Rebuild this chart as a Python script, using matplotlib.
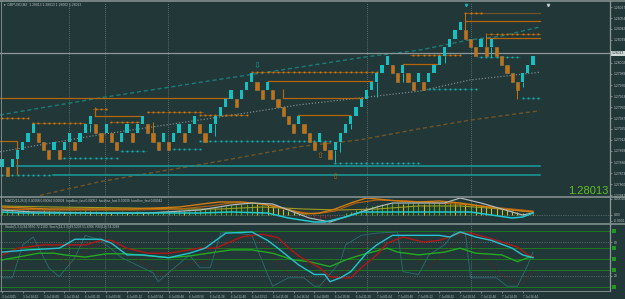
# grafica renko GBPUSD con MACD y estocastico (estilo MT4)
import numpy as np
import matplotlib
matplotlib.use('Agg')
import matplotlib.pyplot as plt
import matplotlib.transforms as mtransforms
from matplotlib.lines import Line2D

plt.rcParams['font.family'] = ['Liberation Sans', 'DejaVu Sans']

# --- colores ---
BG = '#223738'
TEAL = '#17c0c0'
ORANGE = '#c8700c'
FRAME = '#8d9797'
LABEL = '#b8c0c0'

# --- 1. Datos: ladrillos renko (precio) ---
opens = [1.2788, 1.2788, 1.2788, 1.2789, 1.2790, 1.2791, 1.2792, 1.2792, 1.2791, 1.2790,
         1.2790, 1.2790, 1.2790, 1.2791, 1.2791, 1.2791, 1.2792, 1.2793, 1.2793, 1.2792,
         1.2792, 1.2792, 1.2791, 1.2791, 1.2792, 1.2792, 1.2792, 1.2793, 1.2793, 1.2792,
         1.2791, 1.2791, 1.2791, 1.2791, 1.2792, 1.2792, 1.2792, 1.2793, 1.2793, 1.2792,
         1.2792, 1.2793, 1.2794, 1.2795, 1.2796, 1.2796, 1.2796, 1.2797, 1.2798, 1.2798,
         1.2797, 1.2797, 1.2797, 1.2796, 1.2795, 1.2794, 1.2793, 1.2793, 1.2793, 1.2792,
         1.2791, 1.2791, 1.2791, 1.2790, 1.2790, 1.2791, 1.2792, 1.2793, 1.2794, 1.2795,
         1.2796, 1.2797, 1.2798, 1.2799, 1.2800, 1.2800, 1.2799, 1.2799, 1.2799, 1.2798,
         1.2798, 1.2798, 1.2798, 1.2799, 1.2800, 1.2801, 1.2802, 1.2803, 1.2804, 1.2804,
         1.2803, 1.2802, 1.2802, 1.2802, 1.2802, 1.2802, 1.2801, 1.2800, 1.2799, 1.2798,
         1.2798, 1.2799, 1.2800]
closes = [1.2789, 1.2787, 1.2789, 1.2790, 1.2791, 1.2792, 1.2793, 1.2791, 1.2790, 1.2789,
          1.2791, 1.2789, 1.2791, 1.2792, 1.2790, 1.2792, 1.2793, 1.2794, 1.2792, 1.2791,
          1.2793, 1.2791, 1.2790, 1.2792, 1.2793, 1.2791, 1.2793, 1.2794, 1.2792, 1.2791,
          1.2790, 1.2792, 1.2790, 1.2792, 1.2793, 1.2791, 1.2793, 1.2794, 1.2792, 1.2791,
          1.2793, 1.2794, 1.2795, 1.2796, 1.2797, 1.2795, 1.2797, 1.2798, 1.2799, 1.2797,
          1.2796, 1.2798, 1.2796, 1.2795, 1.2794, 1.2793, 1.2792, 1.2794, 1.2792, 1.2791,
          1.2790, 1.2792, 1.2790, 1.2789, 1.2791, 1.2792, 1.2793, 1.2794, 1.2795, 1.2796,
          1.2797, 1.2798, 1.2799, 1.2800, 1.2801, 1.2799, 1.2798, 1.2800, 1.2798, 1.2797,
          1.2799, 1.2797, 1.2799, 1.2800, 1.2801, 1.2802, 1.2803, 1.2804, 1.2805, 1.2803,
          1.2802, 1.2801, 1.2803, 1.2801, 1.2803, 1.2801, 1.2800, 1.2799, 1.2798, 1.2797,
          1.2799, 1.2800, 1.2801]
wick_bars = [17, 29, 41, 64, 65, 67, 72, 77, 85, 89, 93, 94, 99, 100]
wick_ends = [1.27921, 1.27933, 1.27916, 1.27886, 1.27898, 1.27925, 1.27962, 1.27980,
             1.28002, 1.28060, 1.28037, 1.28009, 1.27960, 1.27974]
bid = 1.28013

# canal (indice de barra, precio)
chan_up_x = [-0.4, 18.8, 40.0, 57.2, 69.9, 80.3, 89.9, 95.7, 103.3]
chan_up = [1.27941, 1.27961, 1.27981, 1.27997, 1.28009, 1.28017, 1.28029, 1.28033, 1.28044]
chan_mid_x = [-0.4, 18.8, 40.0, 57.2, 68.8, 80.3, 89.9, 103.3]
chan_mid = [1.27898, 1.27918, 1.27937, 1.27953, 1.27961, 1.27969, 1.27982, 1.27991]
chan_lo_x = [7.3, 18.8, 40.0, 57.2, 68.8, 80.3, 89.9, 103.3]
chan_lo = [1.27847, 1.27863, 1.27885, 1.27904, 1.27912, 1.27925, 1.27935, 1.27946]

# niveles naranjas (lineas solidas)
oseg_start = [-0.4, 54.0, 51.1, 77.0, 89.1, 93.2, -0.4, 56.9, 17.9]
oseg_end = [43.4, 69.3, 71.1, 83.6, 103.3, 103.3, 2.9, 66.8, 27.1]
oseg_level = [1.27961, 1.27961, 1.27981, 1.28001, 1.28051, 1.28031, 1.27911, 1.27941, 1.27940]
overt_x = [2.9, 17.9, 54.0]
overt_lo = [1.27871, 1.27940, 1.27961]
overt_hi = [1.27911, 1.27950, 1.27971]
# niveles naranjas punteados
odot_start = [-0.4, 5.8, 17.5, 20.7, 27.9, 38.0, 48.0, 78.4, 88.9, 93.2]
odot_end = [5.0, 15.9, 20.2, 26.5, 38.6, 47.1, 72.0, 88.0, 92.2, 103.3]
odot_level = [1.27937, 1.27932, 1.27948, 1.27933, 1.27944, 1.27941, 1.27991, 1.28011, 1.28060, 1.28036]
# niveles turquesa punteados
tdot_start = [-0.4, 11.5, 22.7, 32.7, 38.0, 63.6, 81.6, 91.2, 99.9]
tdot_end = [9.8, 22.1, 27.9, 38.0, 63.0, 80.3, 91.2, 99.5, 103.3]
tdot_level = [1.27871, 1.27891, 1.27899, 1.27901, 1.27911, 1.27885, 1.27971, 1.28009, 1.27961]
# lineas turquesa solidas
tseg_start = [2.9, 9.8]
tseg_end = [103.3, 103.3]
tseg_level = [1.27881, 1.27871]

# flechas
arrow_x = [49.0, 61.1, 64.0]
arrow_y = [1.27998, 1.27894, 1.27869]
arrow_txt = ['\u21e9', '\u21e7', '\u21e7']

# separadores de periodo
sep_bars = [12.9, 19.8, 31.9, 70.1, 90.1]

price_ticks = [1.28067, 1.28054, 1.28042, 1.28029, 1.28002, 1.27989, 1.27976, 1.27963,
               1.27950, 1.27937, 1.27925, 1.27912, 1.27899, 1.27886, 1.27873, 1.27860, 1.27847]

# --- MACD (puntos, 1e-5) ---
macd_hist = [4, 5, 5, 4, 5, 5, 4, 4, 5, 4, 4,
             4, 3, 4, 4, 4, 5, 4, 4, 3, 4,
             3, 3, 4, 3, 3, 4, 3, 3, 3, 3,
             4, 4, 4, 5, 4, 4, 5, 5,
             6, 6, 7, 8, 9, 10, 10, 11, 11, 12, 11, 11,
             10, 9, 7, 6, 4, 3,
             1, 0, -1, -2,
             -3, -3, -2,
             -1, 0, 2,
             3, 5, 6, 8, 9, 10,
             11, 11, 12, 12, 11, 12, 12, 12, 11, 12, 12, 13, 13, 13, 12, 13, 12, 12,
             11, 10, 9, 8, 7, 6,
             5, 4, 3, 2, 2, 1]
macd_gray_x = [0, 6, 19, 28, 38, 44, 48, 52, 56, 59, 63, 67, 72, 75, 85, 88, 92, 98, 100, 102]
macd_gray = [5, 3, 2, 2, 5, 10, 12, 11, 3, -3, -7, 0, 8, 12, 12, 17, 12, 3, 0, 2]
macd_cyan_x = [0, 4, 19, 38, 44, 51, 55, 60, 62, 66, 69, 72, 90, 94, 98, 100, 102]
macd_cyan = [3, 2, 2, 2, 3, 2, -3, -7, -7, -2, 3, 3, 3, 0, -3, -2, 2]
macd_or_x = [0, 9, 25, 34, 40, 42, 46, 50, 54, 58, 61, 64, 67, 70, 76, 80, 84, 88, 92, 96, 102]
macd_or = [8, 6, 6, 8, 12, 13, 13, 11, 7, 1, 2, 6, 12, 17, 14, 13, 14, 12, 9, 6, 3]
macd_or2_x = [0, 9, 25, 34, 40, 44, 48, 52, 56, 60, 64, 68, 72, 78, 84, 90, 96, 102]
macd_or2 = [6, 5, 5, 6, 9, 12, 12, 9, 4, 1, 4, 12, 15, 14, 12, 10, 7, 4]
macd_ol_x = [0, 10, 25, 35, 42, 50, 58, 65, 72, 80, 88, 96, 102]
macd_ol = [9, 8, 7, 6, 6, 8, 6, 5, 6, 9, 9, 6, 3]

# --- Estocastico / RSI ---
st_cyan_x = [0, 5, 11, 14, 19, 21, 24, 27, 32, 36, 39, 43, 48, 51, 53, 57, 60, 62, 63, 65,
             67, 70, 72, 75, 84, 86, 88, 91, 94, 98, 100, 102]
st_cyan = [62, 66, 69, 85, 85, 78, 57, 57, 52, 60, 69, 96, 98, 83, 69, 39, 22, 22, 9, 16,
           27, 60, 75, 92, 92, 89, 98, 89, 83, 69, 57, 52]
st_red_x = [0, 3, 8, 16, 19, 21, 24, 28, 32, 38, 41, 46, 50, 53, 55, 57, 61, 63, 65, 67,
            69, 72, 74, 77, 81, 84, 88, 90, 95, 99, 101, 102]
st_red = [57, 69, 75, 75, 83, 83, 69, 60, 60, 69, 69, 89, 94, 88, 70, 55, 34, 18, 16, 16,
          34, 57, 78, 89, 80, 83, 96, 96, 83, 71, 57, 53]
st_green_x = [0, 3, 7, 10, 12, 16, 20, 24, 32, 36, 41, 44, 48, 52, 56, 59, 63, 66, 69, 74,
              76, 80, 85, 88, 91, 96, 99, 101, 102]
st_green = [48, 53, 60, 60, 57, 53, 59, 59, 52, 55, 62, 66, 66, 60, 48, 45, 36, 48, 57, 69,
            62, 57, 62, 69, 60, 57, 45, 52, 53]
st_fast_x = [0, 2, 4, 6, 9, 11, 14, 16, 19, 23, 29, 30, 32, 36, 38, 40, 42, 44, 48, 51,
             52, 55, 58, 60, 61, 65, 66, 69, 72, 76, 77, 80, 82, 85, 87, 89, 90, 95, 97, 99,
             101, 102]
st_fast = [16, 16, 75, 89, 34, 18, 52, 92, 83, 52, 25, 9, 25, 57, 34, 34, 96, 98, 92, 22,
           1, 16, 16, 1, 1, 45, 75, 92, 96, 98, 27, 22, 57, 75, 98, 98, 16, 16, 1, 1,
           39, 62]
st_sig_x = [0, 5, 9, 13, 17, 21, 26, 31, 35, 39, 43, 47, 51, 54, 58, 62, 66, 70, 74, 78,
            82, 86, 89, 92, 96, 100, 102]
st_sig = [30, 60, 70, 40, 70, 80, 50, 20, 40, 45, 70, 95, 70, 30, 15, 5, 30, 80, 95, 60,
          35, 70, 95, 60, 20, 5, 30]
st_levels = [100, 70, 50, 30, 0]
st_dotted = [80, 20]

# etiquetas de tiempo
time_pos = list(range(0, 101, 4))
time_labels = ['3 Jul 2015', '3 Jul 14:32', '3 Jul 16:08', '3 Jul 19:44', '6 Jul 01:20',
               '6 Jul 03:36', '6 Jul 05:12', '6 Jul 07:04', '6 Jul 08:48', '6 Jul 09:56',
               '6 Jul 11:28', '6 Jul 12:40', '6 Jul 13:52', '6 Jul 15:08', '6 Jul 16:24',
               '6 Jul 18:00', '6 Jul 19:36', '6 Jul 21:20', '7 Jul 01:04', '7 Jul 03:40',
               '7 Jul 06:12', '7 Jul 08:32', '7 Jul 10:24', '7 Jul 12:48', '7 Jul 14:20',
               '7 Jul 16:44']

# --- 2. Figura ---
W, H = 625, 299
fig = plt.figure(figsize=(W / 100, H / 100), dpi=100, facecolor=BG)


def panel(top, bottom):
    ax = fig.add_axes([0, 1 - bottom / H, 610 / W, (bottom - top) / H])
    ax.set_facecolor(BG)
    for s in ax.spines.values():
        s.set_visible(False)
    ax.set_xlim(-0.384, 116.79)
    ax.yaxis.tick_right()
    ax.tick_params(axis='y', length=1.5, width=0.4, pad=1.2, labelsize=2.4,
                   colors=LABEL)
    ax.tick_params(axis='x', bottom=False, labelbottom=False)
    for s in sep_bars:
        ax.axvline(s, color='#6f7f7f', lw=0.6, ls=(0, (1, 1.5)), zorder=1)
    return ax


ax = panel(3, 195.5)
ax.set_ylim(1.2784684, 1.28072)

x = np.arange(len(opens))
o = np.array(opens)
c = np.array(closes)
up = c > o

# canal
ax.plot(chan_up_x, chan_up, color='#1e7a78', lw=1.0, ls=(0, (3, 2)), zorder=2)
ax.plot(chan_mid_x, chan_mid, color='#7a8888', lw=0.9, ls=(0, (1, 1.5)), zorder=2)
ax.plot(chan_lo_x, chan_lo, color='#6e5428', lw=1.0, ls=(0, (3, 2)), zorder=2)

ax.axhline(bid, color='#8d9999', lw=0.9, zorder=2)

for s, e, lvl in zip(oseg_start, oseg_end, oseg_level):
    ax.plot([s, e], [lvl, lvl], color='#b4660c', lw=0.9, zorder=3)
ax.plot([89.1, 103.3], [1.28060, 1.28060], color='#6e5428', lw=0.9, zorder=3)
ax.vlines(overt_x, overt_lo, overt_hi, color='#b4660c', lw=0.9, zorder=3)

for s, e, lvl in zip(tseg_start, tseg_end, tseg_level):
    ax.plot([s, e], [lvl, lvl], color='#1a9c9c', lw=1.1, zorder=3)

for s, e, lvl in zip(odot_start, odot_end, odot_level):
    xs = np.arange(np.ceil(s), np.floor(e) + 1)
    ax.plot([s, e], [lvl, lvl], color='#a05a0c', lw=0.5, zorder=3)
    ax.plot(xs, [lvl] * len(xs), ls='none', marker='s', ms=1.3, mew=0,
            color='#d07810', zorder=3)
for s, e, lvl in zip(tdot_start, tdot_end, tdot_level):
    xs = np.arange(np.ceil(s), np.floor(e) + 1)
    ax.plot([s, e], [lvl, lvl], color='#1a7070', lw=0.4, zorder=3)
    ax.plot(xs, [lvl] * len(xs), ls='none', marker='s', ms=1.3, mew=0,
            color='#1ab0b0', zorder=3)

# mechas
for b, end in zip(wick_bars, wick_ends):
    body_lo, body_hi = min(o[b], c[b]), max(o[b], c[b])
    lo, hi = (end, body_lo) if end < body_lo else (body_hi, end)
    ax.vlines(b, lo, hi, color=TEAL if up[b] else ORANGE, lw=0.7, zorder=4)

# velas
ax.bar(x[up], (c - o)[up], bottom=o[up], width=0.62, color=TEAL, linewidth=0, zorder=5)
ax.bar(x[~up], (c - o)[~up], bottom=o[~up], width=0.62, color=ORANGE,
       edgecolor='#a08050', linewidth=0.4, zorder=5)

for ax_, ay_, t_ in zip(arrow_x, arrow_y, arrow_txt):
    col = '#1a9c9c' if t_ == '\u21e9' else '#b06a10'
    ax.text(ax_, ay_, t_, color=col, fontsize=6, ha='center', va='center',
            family='DejaVu Sans', zorder=6)

ax.plot([89.1], [1.28070], marker='v', ms=1.6, color='#1ab0b0', clip_on=False)
ax.plot([104.9], [1.28070], marker='v', ms=1.6, color='#c0c8c8', clip_on=False)

ax.set_yticks(price_ticks)
ax.set_yticklabels(['%.5f' % p for p in price_ticks])
trans = mtransforms.blended_transform_factory(ax.transAxes, ax.transData)
ax.text(1.003, bid, '%.5f' % bid, transform=trans, fontsize=2.4, color=BG,
        va='center', ha='left',
        bbox=dict(boxstyle='square,pad=0.2', fc='#d0d8d8', ec='none'))

# --- 3. MACD ---
ax2 = panel(197.5, 222.5)
ax2.set_ylim(-7.5, 17.5)
ax2.axhline(0, color='#7a8a8a', lw=0.5, ls=(0, (1, 1.5)))
hist = np.array(macd_hist)
cols = []
for k, v in enumerate(hist):
    if v < 0:
        cols.append('#c81414')
    elif k > 0 and v < hist[k - 1]:
        cols.append('#c8c400')
    else:
        cols.append('#58a800')
ax2.vlines(x, 0, hist, colors=cols, lw=0.8, zorder=2)
ax2.plot(macd_ol_x, macd_ol, color='#a09a20', lw=0.8, zorder=3)
ax2.plot(macd_or2_x, macd_or2, color='#b8620e', lw=0.8, zorder=3)
ax2.plot(macd_or_x, macd_or, color='#d07c12', lw=1.0, zorder=3)
ax2.plot(macd_gray_x, macd_gray, color='#b0b8b8', lw=0.9, zorder=4)
ax2.plot(macd_cyan_x, macd_cyan, color='#20c8d0', lw=1.1, zorder=4)
ax2.set_yticks([16, 0, -6])
ax2.set_yticklabels(['0.00016', '0.00', '-0.0001'])
ax2.text(0.008, 0.93, 'MACD(12,26,9) 0.00088 0.00084 0.00004  hardline_fast 0.00052  '
         'hardline_fast 0.00039  hardline_fast 0.00042', transform=ax2.transAxes,
         fontsize=2.3, color=LABEL, va='top', ha='left')

# --- 4. Estocastico ---
ax3 = panel(224.5, 291)
ax3.set_ylim(-7.6, 111.4)
for lvl in st_levels:
    ax3.axhline(lvl, color='#1e7a1e', lw=0.7, zorder=1)
for lvl in st_dotted:
    ax3.axhline(lvl, color='#7a8a8a', lw=0.5, ls=(0, (1, 1.5)), zorder=1)
ax3.plot(st_sig_x, st_sig, color='#7a1a1a', lw=0.6, ls=':', zorder=2)
ax3.plot(st_fast_x, st_fast, color='#2c6e70', lw=0.6, zorder=2)
ax3.plot(st_green_x, st_green, color='#22aa22', lw=1.0, zorder=3)
ax3.plot(st_red_x, st_red, color='#b01818', lw=1.0, zorder=3)
ax3.plot(st_cyan_x, st_cyan, color='#22c4d0', lw=1.0, zorder=4)
ax3.plot([117.6] * len(st_levels), st_levels, ls='none', marker='s', ms=2.6, mew=0,
         color='#1e9a1e', clip_on=False)
ax3.set_yticks(st_dotted)
ax3.set_yticklabels([str(v) for v in st_dotted])
ax3.text(0.008, 0.985, 'Stoch(5,3,3) 84.9550 72.1100  Stoch(14,3,3) 49.5203 51.8766  '
         'RSI(14) 54.3288', transform=ax3.transAxes, fontsize=2.3, color=LABEL,
         va='top', ha='left')
ax3.tick_params(axis='x', bottom=True, labelbottom=True, length=1.5, width=0.4,
                pad=1.2, labelsize=2.2, colors=LABEL)
ax3.set_xticks(time_pos)
ax3.set_xticklabels(time_labels, ha='left')

# --- 5. Marco y textos ---
def hline(y, x0=0, x1=W, lw=1.1):
    fig.add_artist(Line2D([x0 / W, x1 / W], [1 - y / H, 1 - y / H],
                          transform=fig.transFigure, color=FRAME, lw=lw))


hline(1.2)
hline(196.6)
hline(223.6)
hline(291.3, x1=610, lw=0.6)
fig.add_artist(Line2D([610 / W, 610 / W], [1 - 291.3 / H, 1 - 1 / H],
                      transform=fig.transFigure, color=FRAME, lw=0.9))
fig.add_artist(Line2D([0.6 / W, 0.6 / W], [1 - 291.3 / H, 1 - 1 / H],
                      transform=fig.transFigure, color=FRAME, lw=0.6))

fig.text(3 / W, 1 - 5 / H, '\u25bc GBPUSD,M2  1.28013 1.28013 1.28002 1.28013',
         fontsize=2.4, color=LABEL, va='center', ha='left')
fig.text(608 / W, 1 - 194 / H, '1.28013', ha='right', va='baseline', fontsize=8,
         color='#5fbf1f')

fig.savefig('out.png', dpi=100, facecolor=BG)
